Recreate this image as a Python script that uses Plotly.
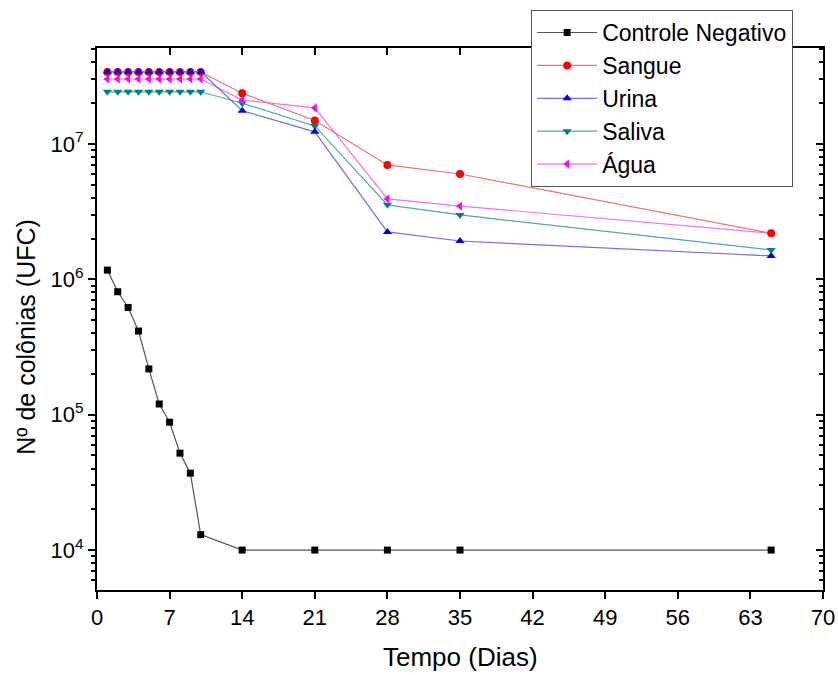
import plotly.graph_objects as go

days = [1, 2, 3, 4, 5, 6, 7, 8, 9, 10, 14, 21, 28, 35, 65]

controle = [1.17e6, 8.1e5, 6.2e5, 4.15e5, 2.18e5, 1.2e5, 8.8e4, 5.2e4, 3.7e4, 1.3e4,
            1.0e4, 1.0e4, 1.0e4, 1.0e4, 1.0e4]
sangue = [3.4e7] * 10 + [2.37e7, 1.49e7, 7.0e6, 6.0e6, 2.19e6]
urina = [3.42e7] * 10 + [1.76e7, 1.23e7, 2.24e6, 1.92e6, 1.49e6]
saliva = [2.43e7] * 10 + [2.0e7, 1.36e7, 3.55e6, 2.99e6, 1.65e6]
agua = [3.02e7] * 10 + [2.11e7, 1.85e7, 3.93e6, 3.48e6, 2.19e6]

series_names = ["Controle Negativo", "Sangue", "Urina", "Saliva", "Água"]
series_values = [controle, sangue, urina, saliva, agua]
colors = ["#000000", "#ff0000", "#0000ff", "#008080", "#ff00ff"]
line_colors = ["#555555", "#f07070", "#7070f0", "#50a8a8", "#f070f0"]
symbols = ["square", "circle", "triangle-up", "triangle-down", "triangle-left"]
draw_order = [0, 3, 4, 1, 2]  # Controle, Saliva, Água, Sangue, Urina

x_ticks = [0, 7, 14, 21, 28, 35, 42, 49, 56, 63, 70]
y_major = [1e4, 1e5, 1e6, 1e7]
y_major_text = ["10<sup>4</sup>", "10<sup>5</sup>", "10<sup>6</sup>", "10<sup>7</sup>"]
y_minor = [m * 10 ** e for e in range(3, 8) for m in range(2, 10) if 5e3 <= m * 10 ** e <= 5e7]

fig = go.Figure()
for i in draw_order:
    s = symbols[i]
    fig.add_trace(go.Scatter(
        x=days, y=series_values[i], name=series_names[i], mode="lines+markers",
        legendrank=i + 1,
        line=dict(color=line_colors[i], width=1.2),
        marker=dict(symbol=s, size=8 if s != "square" else 7, color=colors[i],
                    line=dict(width=0)),
    ))

font_family = "Liberation Sans, Arial, sans-serif"
lo, hi = 3.705, 7.709

fig.update_layout(
    width=838, height=675,
    margin=dict(l=97, r=15, t=48, b=85, autoexpand=False),
    plot_bgcolor="white", paper_bgcolor="white",
    font=dict(family=font_family, color="black", size=22),
    showlegend=True,
    legend=dict(x=0.598, y=1.07, xanchor="left", yanchor="top",
                bgcolor="white", bordercolor="#555555", borderwidth=1,
                font=dict(size=23), tracegroupgap=0, itemwidth=60),
    xaxis=dict(range=[0, 70], tickmode="array", tickvals=x_ticks,
               showline=True, linecolor="black", linewidth=2,
               ticks="outside", ticklen=7, tickwidth=2, tickcolor="black",
               showgrid=False, zeroline=False, automargin=False,
               tickfont=dict(size=22)),
    yaxis=dict(type="log", range=[lo, hi], tickmode="array",
               tickvals=y_major, ticktext=y_major_text,
               showline=True, linecolor="black", linewidth=2,
               ticks="outside", ticklen=7, tickwidth=2, tickcolor="black",
               minor=dict(tickmode="array", tickvals=y_minor, ticks="outside",
                          ticklen=4, tickwidth=1.5, tickcolor="black", showgrid=False),
               showgrid=False, zeroline=False, automargin=False,
               tickfont=dict(size=22)),
    xaxis2=dict(range=[0, 70], overlaying="x", side="top", matches="x",
                tickmode="array", tickvals=x_ticks, showticklabels=False,
                showline=True, linecolor="black", linewidth=2,
                ticks="inside", ticklen=7, tickwidth=2, tickcolor="black",
                showgrid=False, zeroline=False, automargin=False),
    yaxis2=dict(type="log", range=[lo, hi], overlaying="y", side="right",
                tickmode="array", tickvals=y_major, showticklabels=False,
                showline=True, linecolor="black", linewidth=2,
                ticks="inside", ticklen=7, tickwidth=2, tickcolor="black",
                minor=dict(tickmode="array", tickvals=y_minor, ticks="inside",
                           ticklen=4, tickwidth=1.5, tickcolor="black", showgrid=False),
                showgrid=False, zeroline=False, automargin=False),
    annotations=[
        dict(text="Tempo (Dias)", xref="paper", yref="paper", x=0.5, y=-0.1236,
             xanchor="center", yanchor="middle", showarrow=False,
             font=dict(size=26)),
        dict(text="Nº de colônias (UFC)", xref="paper", yref="paper", x=-0.098, y=0.467,
             xanchor="center", yanchor="middle", showarrow=False, textangle=-90,
             font=dict(size=25)),
    ],
)

# invisible trace to activate the mirrored top/right axes
fig.add_trace(go.Scatter(x=[None], y=[None], xaxis="x2", yaxis="y2",
                         showlegend=False, hoverinfo="skip"))

fig.write_html("out.html")
